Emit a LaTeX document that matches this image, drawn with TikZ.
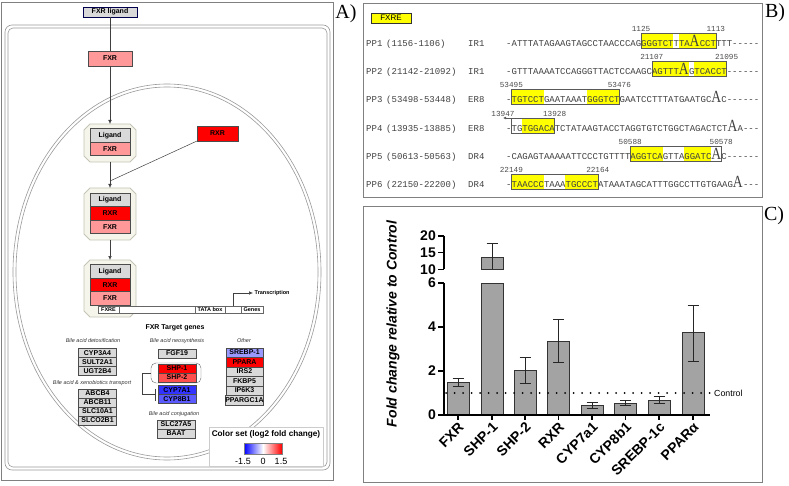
\documentclass[tikz,border=0pt]{standalone}
\usepackage{fontspec}
\setmainfont{Liberation Serif}
\setsansfont{Liberation Sans}
\setmonofont{Liberation Mono}
\usetikzlibrary{arrows.meta,positioning,calc}

\definecolor{fxrpink}{HTML}{FF9999}
\definecolor{genegray}{HTML}{D9D9D9}
\definecolor{cplxfill}{HTML}{F5F5EC}
\definecolor{cplxline}{HTML}{C4C4B4}
\definecolor{shptwo}{HTML}{FF5050}
\definecolor{cypseven}{HTML}{3333FF}
\definecolor{cypeight}{HTML}{5A5AFF}
\definecolor{srebp}{HTML}{9999FF}
\definecolor{barfill}{HTML}{A3A3A3}
\definecolor{hilite}{HTML}{FFFF00}

\newcommand{\genefont}{\sffamily\bfseries\fontsize{7}{8}\selectfont}
\newcommand{\groupfont}{\sffamily\itshape\fontsize{5.5}{6}\selectfont}
\newcommand{\dnafont}{\sffamily\bfseries\fontsize{5.5}{6}\selectfont}
\newcommand{\seqfont}{\ttfamily\fontsize{9}{10}\selectfont}
\newcommand{\posfont}{\ttfamily\fontsize{7.7}{8}\selectfont}
\newcommand{\axisfont}{\sffamily\bfseries\fontsize{14}{15}\selectfont}
% octagonal outline round a complex node
\newcommand{\drawcomplex}[1]{%
  \draw[draw=cplxline, fill=cplxfill, line width=0.8pt]
    ($(#1.north west)+(6,0)$) -- ($(#1.north east)+(-6,0)$) -- ($(#1.north east)+(0,6)$)
    -- ($(#1.south east)+(0,-6)$) -- ($(#1.south east)+(-6,0)$) -- ($(#1.south west)+(6,0)$)
    -- ($(#1.south west)+(0,-6)$) -- ($(#1.north west)+(0,6)$) -- cycle;}

\begin{document}
\begin{tikzpicture}[x=1pt, y=-1pt,
  gene/.style={draw=black!70, fill=genegray, font=\genefont, minimum width=38pt,
    minimum height=9pt, inner sep=0pt, outer sep=0pt, line width=0.5pt},
  other/.style={gene, minimum width=37pt, minimum height=9.5pt},
  part/.style={gene, minimum width=40pt, minimum height=13.5pt},
  cplx/.style={rectangle, minimum width=52pt, inner sep=0pt, outer sep=0pt},
  memb/.style={draw=black!40, line width=0.6pt},
  link/.style={draw=black!75, line width=0.5pt},
  arr/.style={link, -{Latex[length=4pt,width=3.5pt]}},
  inh/.style={link, -{Bar[width=12pt]}},
  grptitle/.style={font=\groupfont, text=black!80},
  dnabox/.style={draw=black!60, fill=white, font=\dnafont, minimum height=7.5pt, inner sep=0pt, outer sep=0pt},
  seq/.style={font=\seqfont, text=black!75, inner sep=0pt, anchor=base west},
  sitepos/.style={font=\posfont, text=black!70, inner sep=0pt},
  bigA/.style={font=\rmfamily\fontsize{17}{17}\selectfont, xscale=0.8, text=black!75, inner sep=0pt, anchor=base},
  site/.style={draw=black!65, line width=0.6pt},
  frame/.style={draw=black!50, line width=1pt},
  panel/.style={font=\rmfamily\fontsize{20}{20}\selectfont},
  bar/.style={draw=black!80, fill=barfill, line width=0.8pt},
  err/.style={draw=black!85, line width=0.8pt},
  axis/.style={draw=black, line width=1.4pt}
]
\useasboundingbox (0,0) rectangle (789,486);

% ---------- panel A: pathway ----------
\draw[frame] (1,3) rectangle (333,480);
\draw[memb, rounded corners=7pt] (5,25) rectangle (330,470);
\draw[memb, rounded corners=5pt] (8,28) rectangle (327,467);
\draw[memb] (167,272) ellipse [x radius=154, y radius=188];
\draw[memb] (167,272) ellipse [x radius=151, y radius=185];

\node[gene, draw=black!70!blue, minimum width=54pt, minimum height=10pt] (lig) at (110,12) {FXR ligand};
\node[gene, fill=fxrpink, minimum width=44pt, minimum height=15pt] (fxr) at (110,58.5) {FXR};
\node[gene, fill=red, minimum width=41pt, minimum height=15pt] (rxr) at (217.5,133.5) {RXR};

\node[cplx, minimum height=38pt] (cx1) at (110,143) {};
\drawcomplex{cx1}
\node[part] (cx1lig) at (110,135.5) {Ligand};
\node[part, fill=fxrpink, below=0pt of cx1lig] (cx1fxr) {FXR};

\node[cplx, minimum height=52pt] (cx2) at (110,214) {};
\drawcomplex{cx2}
\node[part] (cx2lig) at (110,200) {Ligand};
\node[part, fill=red, below=0pt of cx2lig] (cx2rxr) {RXR};
\node[part, fill=fxrpink, below=0pt of cx2rxr] (cx2fxr) {FXR};

\node[cplx, minimum height=57pt] (cx3) at (110,288.5) {};
\drawcomplex{cx3}
\node[part] (cx3lig) at (110,271.25) {Ligand};
\node[part, fill=red, below=0pt of cx3lig] (cx3rxr) {RXR};
\node[part, fill=fxrpink, below=0pt of cx3rxr] (cx3fxr) {FXR};

\draw[link] (lig) -- (fxr);
\draw[arr] (fxr) -- (cx1);
\coordinate (join) at (110,181);
\draw[link] (rxr.south west) -- (join);
\draw[arr] (cx1) -- (cx2);
\draw[arr] (cx2) -- (cx3);

% promoter strip
\node[dnabox, minimum width=165pt] (dna) at (180.5,309.5) {};
\node[dnabox, minimum width=21pt] (fxre) at (108.5,309.5) {FXRE};
\node[dnabox, minimum width=30pt] (tata) at (210,309.5) {TATA box};
\node[dnabox, minimum width=22pt] (genes) at (252,309.5) {Genes};
\coordinate (tss) at (233,305.75);
\node[font=\dnafont, anchor=west, inner sep=1.5pt] (txn) at (253,293) {Transcription};
\draw[arr] (tss) |- (txn.west);

% target genes
\node[font=\genefont] (targets) at (175,328) {FXR Target genes};
\node[grptitle] (tdetox) at (93,341) {Bile acid detoxification};
\node[grptitle] (tneo) at (177,341) {Bile acid neosynthesis};
\node[grptitle] (tother) at (244,341) {Other};
\node[grptitle] (ttrans) at (92,383) {Bile acid \& xenobiotics transport};
\node[grptitle] (tconj) at (174,414) {Bile acid conjugation};

\node[gene] (cyp3a4) at (97.5,353) {CYP3A4};
\node[gene, below=0pt of cyp3a4] (sult2a1) {SULT2A1};
\node[gene, below=0pt of sult2a1] (ugt2b4) {UGT2B4};

\node[gene] (abcb4) at (97.5,393.5) {ABCB4};
\node[gene, below=0pt of abcb4] (abcb11) {ABCB11};
\node[gene, below=0pt of abcb11] (slc10a1) {SLC10A1};
\node[gene, below=0pt of slc10a1] (slco2b1) {SLCO2B1};

\node[gene] (fgf19) at (177,353.5) {FGF19};
\node[draw=black!60, rounded corners=5pt, minimum width=50pt, minimum height=20pt] (shpgrp) at (176,373) {};
\node[gene, fill=red] (shp1) at (177,368.5) {SHP-1};
\node[gene, fill=shptwo, below=0pt of shp1] (shp2) {SHP-2};
\node[gene, fill=cypseven] (cyp7a1) at (177,390) {CYP7A1};
\node[gene, fill=cypeight, below=0pt of cyp7a1] (cyp8b1) {CYP8B1};
\coordinate (cyptgt) at (155,394.5);
\draw[inh] (shpgrp.west) -- ++(-9,0) |- (cyptgt);

\node[gene] (slc27a5) at (176,424.5) {SLC27A5};
\node[gene, below=0pt of slc27a5] (baat) {BAAT};

\node[other, fill=srebp] (srebp1) at (244.5,352.5) {SREBP-1};
\node[other, fill=red, below=0pt of srebp1] (ppara) {PPARA};
\node[other, below=0pt of ppara] (irs2) {IRS2};
\node[other, below=0pt of irs2] (fkbp5) {FKBP5};
\node[other, below=0pt of fkbp5] (ip6k3) {IP6K3};
\node[other, below=0pt of ip6k3] (ppargc1a) {PPARGC1A};

% colour key
\node[draw=black!20, fill=white, minimum width=114pt, minimum height=39pt] (legend) at (266,446.5) {};
\node[font=\sffamily\bfseries\fontsize{8.2}{9}\selectfont] (legtitle) at (266,434) {Color set (log2 fold change)};
\shade[left color=blue, right color=red, middle color=white] (244,443) rectangle (282,454);
\draw[draw=black!50, line width=0.4pt] (244,443) rectangle (282,454);
\node[font=\sffamily\fontsize{9}{10}\selectfont] (legmin) at (243,461.5) {-1.5};
\node[font=\sffamily\fontsize{9}{10}\selectfont] (legmid) at (263,461.5) {0};
\node[font=\sffamily\fontsize{9}{10}\selectfont] (legmax) at (281,461.5) {1.5};

\node[panel] (labA) at (346,14) {A)};

% ---------- panel B: response elements ----------
\draw[frame] (363,4) rectangle (762,198);
\node[draw=black!80, fill=hilite, minimum width=40pt, minimum height=10pt, inner sep=0pt,
  font=\sffamily\fontsize{8}{9}\selectfont] (fxrekey) at (391,18) {FXRE};
\node[panel] (labB) at (775,13) {B)};

% PP1
\fill[hilite] (641,33) rectangle (673.4,48);
\fill[hilite] (678.8,33) rectangle (715.8,48);
\draw[site] (641,33) rectangle (715.8,48);
\node[sitepos] (pp1l) at (641,28.5) {1125};
\node[sitepos] (pp1r) at (715.8,28.5) {1113};
\node[seq] (pp1) at (366,47) {PP1};
\node[seq] (pp1rng) at (386,47) {(1156-1106)};
\node[seq] (pp1typ) at (468,47) {IR1};
\node[seq] (pp1s) at (506,47) {-ATTTATAGAAGTAGCCTAACCCAGGGGTCTTTA};
\node[bigA] (pp1A) at (694.6,47) {A};
\node[seq] (pp1e) at (699.6,47) {CCTTTT-----};

% PP2
\fill[hilite] (651.8,61) rectangle (688.8,76);
\fill[hilite] (694.2,61) rectangle (726.6,76);
\draw[site] (651.8,61) rectangle (726.6,76);
\node[sitepos] (pp2l) at (651.8,56.5) {21107};
\node[sitepos] (pp2r) at (726.6,56.5) {21095};
\node[seq] (pp2) at (366,75) {PP2};
\node[seq] (pp2rng) at (386,75) {(21142-21092)};
\node[seq] (pp2typ) at (468,75) {IR1};
\node[seq] (pp2s) at (506,75) {-GTTTAAAATCCAGGGTTACTCCAAGCAGTTT};
\node[bigA] (pp2A) at (683.8,75) {A};
\node[seq] (pp2e) at (688.8,75) {GTCACCT------};

% PP3
\fill[hilite] (511.4,89) rectangle (543.8,104);
\fill[hilite] (587,89) rectangle (619.4,104);
\draw[site] (511.4,89) rectangle (619.4,104);
\node[sitepos] (pp3l) at (511.4,84.5) {53495};
\node[sitepos] (pp3r) at (619.4,84.5) {53476};
\node[seq] (pp3) at (366,103) {PP3};
\node[seq] (pp3rng) at (386,103) {(53498-53448)};
\node[seq] (pp3typ) at (468,103) {ER8};
\node[seq] (pp3s) at (506,103) {-TGTCCTGAATAAATGGGTCTGAATCCTTTATGAATGC};
\node[bigA] (pp3A) at (716.2,103) {A};
\node[seq] (pp3e) at (721.2,103) {C------};

% PP4
\fill[hilite] (522.2,118) rectangle (554.6,133);
\draw[site] (511.4,118) rectangle (554.6,133);
\draw[site, -{Latex[length=3pt,width=3pt]}] (511.4,118) -- (503,118);
\node[sitepos] (pp4l) at (503,113.5) {13947};
\node[sitepos] (pp4r) at (554.6,113.5) {13928};
\node[seq] (pp4) at (366,132) {PP4};
\node[seq] (pp4rng) at (386,132) {(13935-13885)};
\node[seq] (pp4typ) at (468,132) {ER8};
\node[seq] (pp4s) at (506,132) {-TGTGGACATCTATAAGTACCTAGGTGTCTGGCTAGACTCT};
\node[bigA] (pp4A) at (732.4,132) {A};
\node[seq] (pp4e) at (737.4,132) {A---};

% PP5
\fill[hilite] (630.2,146) rectangle (662.6,161);
\fill[hilite] (684.2,146) rectangle (711.2,161);
\draw[site] (630.2,146) rectangle (721.2,161);
\node[sitepos] (pp5l) at (630.2,141.5) {50588};
\node[sitepos] (pp5r) at (721.2,141.5) {50578};
\node[seq] (pp5) at (366,160) {PP5};
\node[seq] (pp5rng) at (386,160) {(50613-50563)};
\node[seq] (pp5typ) at (468,160) {DR4};
\node[seq] (pp5s) at (506,160) {-CAGAGTAAAAATTCCCTGTTTTAGGTCAGTTAGGATC};
\node[bigA] (pp5A) at (716.2,160) {A};
\node[seq] (pp5e) at (721.2,160) {C------};

% PP6
\fill[hilite] (511.4,174) rectangle (543.8,189);
\fill[hilite] (565.4,174) rectangle (597.8,189);
\draw[site] (511.4,174) rectangle (597.8,189);
\node[sitepos] (pp6l) at (511.4,169.5) {22149};
\node[sitepos] (pp6r) at (597.8,169.5) {22164};
\node[seq] (pp6) at (366,188) {PP6};
\node[seq] (pp6rng) at (386,188) {(22150-22200)};
\node[seq] (pp6typ) at (468,188) {DR4};
\node[seq] (pp6s) at (506,188) {-TAACCCTAAATGCCCTATAAATAGCATTTGGCCTTGTGAAG};
\node[bigA] (pp6A) at (737.8,188) {A};
\node[seq] (pp6e) at (742.8,188) {---};

% ---------- panel C: qPCR ----------
\draw[frame] (363,207) rectangle (762,482);
\node[panel] (labC) at (774,216) {C)};
\node[font=\sffamily\bfseries\itshape\fontsize{14}{15}\selectfont, rotate=90] (ylab) at (393,324)
  {Fold change relative to Control};

% bars
\draw[bar] (447,415) rectangle (469,382);
\draw[bar] (481,415) rectangle (503,283);
\draw[bar] (481,269.3) rectangle (503,257);
\draw[bar] (514,415) rectangle (536,369.9);
\draw[bar] (547.5,415) rectangle (569.5,341.1);
\draw[bar] (581,415) rectangle (603,405.1);
\draw[bar] (614.5,415) rectangle (636.5,402.9);
\draw[bar] (648,415) rectangle (670,400);
\draw[bar] (682,415) rectangle (704,332.5);

% error bars
\foreach \xx/\lo/\hi in {458/386/378.5, 525/383.1/357.8, 558.5/362.2/319.3, 592/408/402,
    625.5/405.8/400.5, 659/403.3/396.7, 693/361.1/305} {
  \draw[err] (\xx,\lo) -- (\xx,\hi);
  \draw[err] (\xx-5.5,\lo) -- (\xx+5.5,\lo) (\xx-5.5,\hi) -- (\xx+5.5,\hi);
}
\draw[err] (492,269.3) -- (492,243);
\draw[err] (486.5,243) -- (497.5,243);

% axes
\draw[axis] (444,236) -- (444,269.3);
\draw[axis] (444,283) -- (444,415) -- (710,415);
\foreach \yy/\lab in {415/0, 371/2, 327/4, 283/6, 269.3/10, 252.6/15, 236/20} {
  \draw[axis] (438,\yy) -- (444,\yy);
  \node[font=\axisfont, anchor=east, inner sep=1pt] (ytick\lab) at (437,\yy) {\lab};
}
\foreach \xx/\lab in {458/FXR, 492/SHP-1, 525/SHP-2, 558.5/RXR, 592/CYP7a1,
    625.5/CYP8b1, 659/SREBP-1c, 693/PPARα} {
  \draw[axis] (\xx,415) -- (\xx,420);
  \node[font=\axisfont, rotate=45, anchor=east, inner sep=1pt] (xt\xx) at (\xx+4,424) {\lab};
}

% control level
\draw[line width=2pt, line cap=round, dash pattern=on 0pt off 8.5pt] (446,393) -- (710,393);
\node[font=\sffamily\fontsize{8.8}{10}\selectfont, anchor=west, inner sep=1pt] (ctrl) at (713,393) {Control};
\end{tikzpicture}
\end{document}
